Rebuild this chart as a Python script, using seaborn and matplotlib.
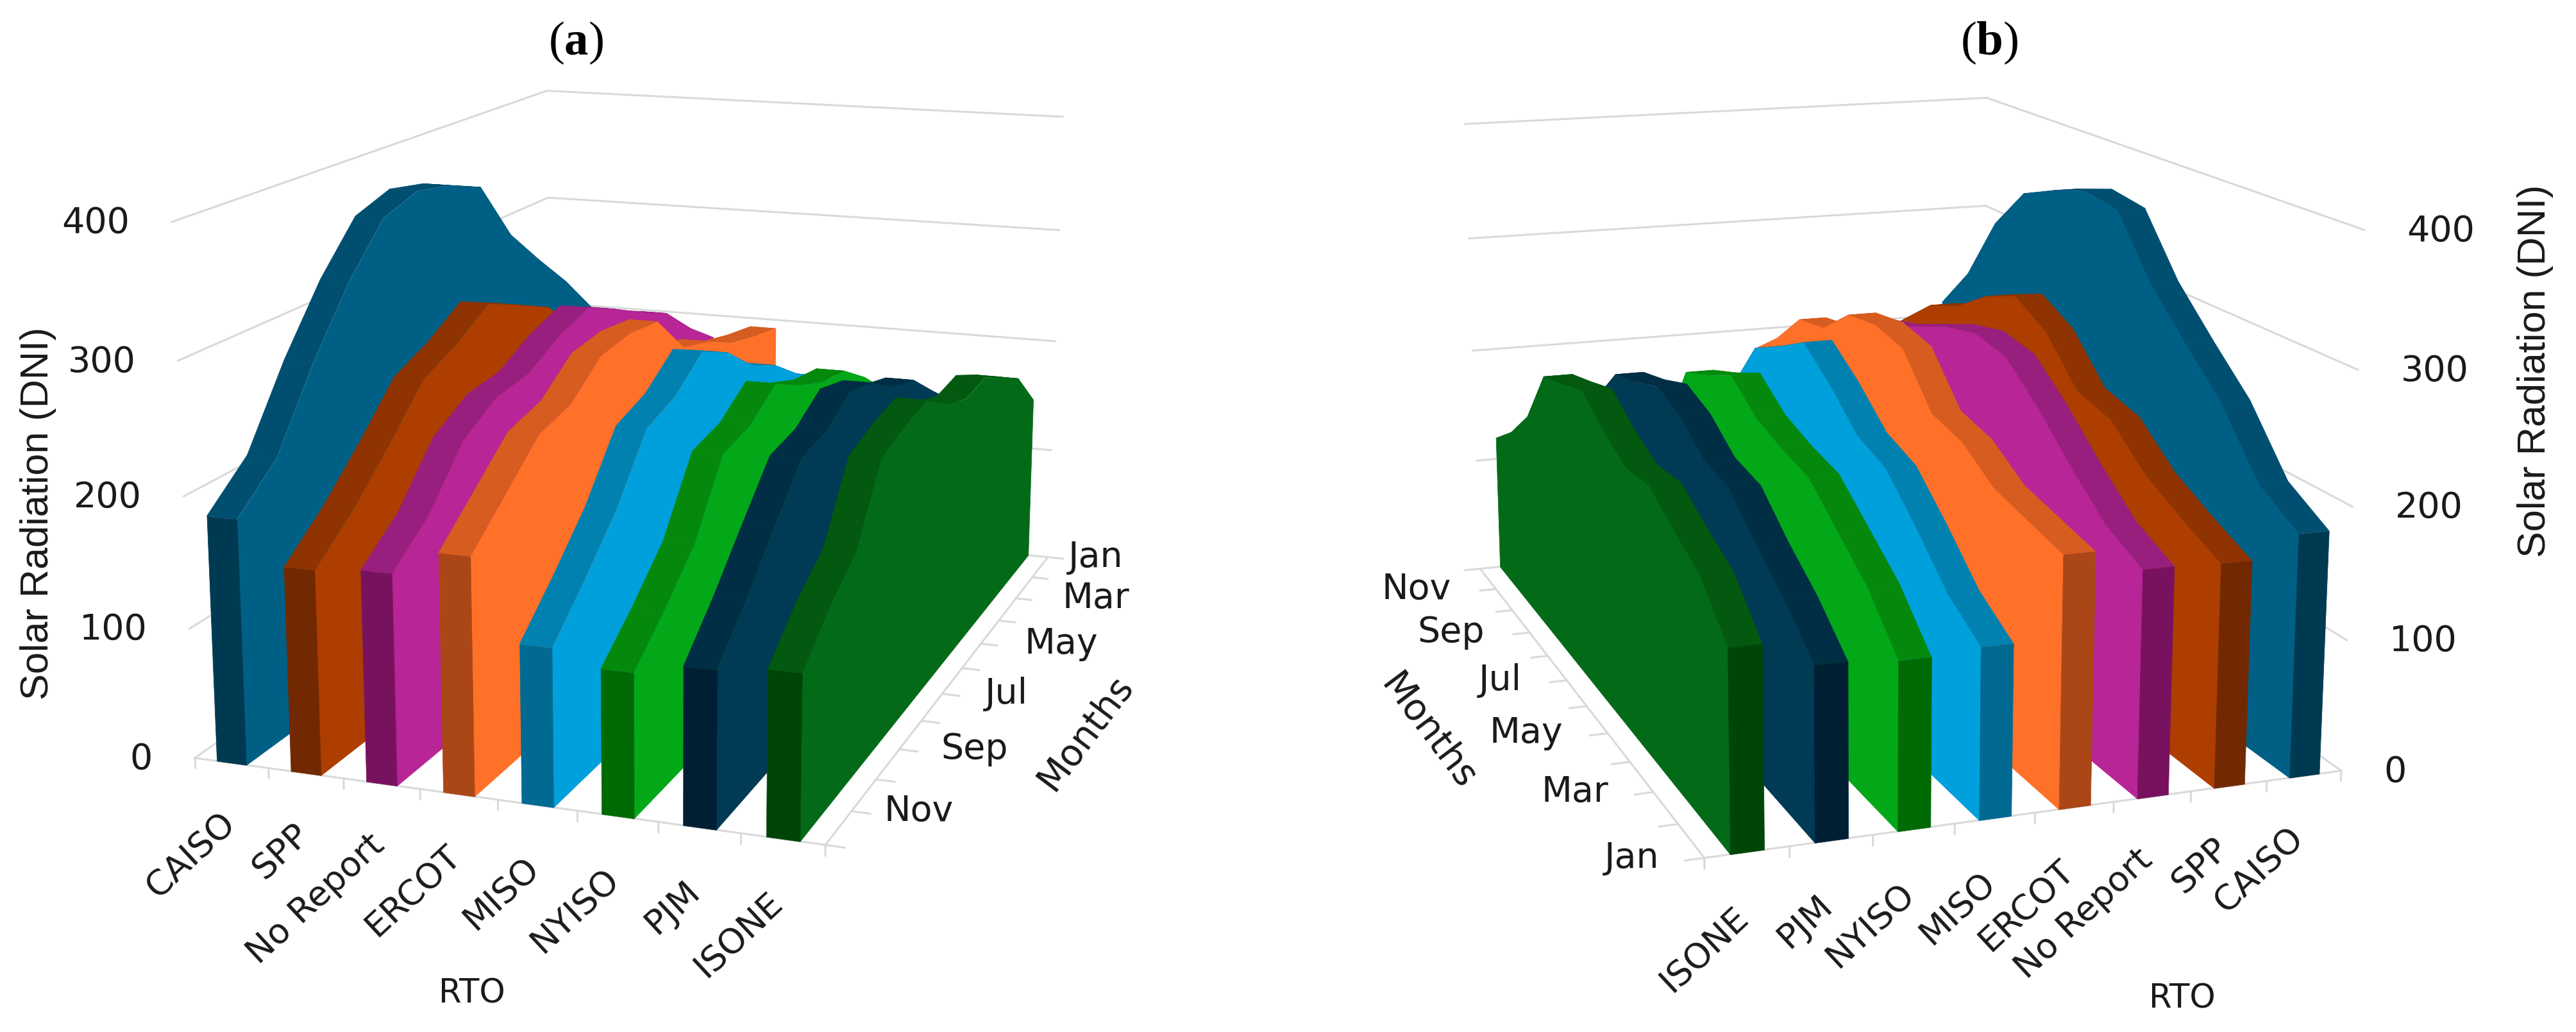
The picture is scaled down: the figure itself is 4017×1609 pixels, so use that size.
import numpy as np
import seaborn as sns
import matplotlib
matplotlib.use("Agg")
import matplotlib.pyplot as plt
from mpl_toolkits.mplot3d import proj3d
from mpl_toolkits.mplot3d.art3d import Poly3DCollection

months = ["Jan", "Feb", "Mar", "Apr", "May", "Jun", "Jul", "Aug", "Sep", "Oct", "Nov", "Dec"]
month_labels = ["Jan", "Mar", "May", "Jul", "Sep", "Nov"]
z_ticks = [0, 100, 200, 300, 400]

# panel (a), Jan to Dec
a_caiso = [199, 236, 268, 302, 354, 366, 372, 361, 323, 274, 216, 187]
a_spp = [175, 190, 205, 223, 255, 270, 284, 265, 251, 215, 182, 155]
a_noreport = [179, 201, 228, 242, 258, 272, 262, 246, 242, 224, 184, 159]
a_ercot = [192, 198, 206, 221, 230, 265, 269, 265, 242, 234, 206, 178]
a_miso = [148, 167, 183, 205, 219, 244, 259, 238, 228, 183, 149, 118]
a_nyiso = [150, 160, 185, 205, 210, 222, 238, 220, 214, 163, 133, 107]
a_pjm = [137, 155, 178, 202, 211, 229, 237, 221, 216, 182, 147, 116]
a_isone = [145, 179, 195, 209, 206, 217, 235, 230, 222, 169, 149, 121]

# panel (b), Jan to Dec
b_isone = [147, 179, 193, 209, 206, 218, 235, 226, 218, 169, 140, 119]
b_pjm = [128, 155, 176, 201, 206, 225, 234, 223, 215, 181, 160, 140]
b_nyiso = [124, 158, 181, 204, 210, 219, 238, 224, 212, 150, 130, 115]
b_miso = [127, 146, 177, 205, 215, 240, 260, 243, 228, 182, 170, 160]
b_ercot = [187, 194, 201, 220, 227, 264, 270, 265, 241, 235, 205, 182]
b_noreport = [170, 185, 212, 242, 267, 272, 264, 251, 238, 229, 214, 198]
b_spp = [168, 183, 200, 227, 235, 269, 285, 272, 251, 239, 214, 188]
b_caiso = [184, 204, 250, 282, 316, 363, 368, 358, 345, 308, 251, 212]

a_rto = ["CAISO", "SPP", "No Report", "ERCOT", "MISO", "NYISO", "PJM", "ISONE"]
b_rto = ["ISONE", "PJM", "NYISO", "MISO", "ERCOT", "No Report", "SPP", "CAISO"]
a_values = [a_caiso, a_spp, a_noreport, a_ercot, a_miso, a_nyiso, a_pjm, a_isone]
b_values = [b_isone, b_pjm, b_nyiso, b_miso, b_ercot, b_noreport, b_spp, b_caiso]

side_color = {"CAISO": "#005F85", "SPP": "#AD3E00", "No Report": "#B72597", "ERCOT": "#FF7029",
              "MISO": "#00A0DC", "NYISO": "#03A818", "PJM": "#003A55", "ISONE": "#036B18"}
top_color = {"CAISO": "#004F70", "SPP": "#8F3300", "No Report": "#981F7E", "ERCOT": "#D65C20",
             "MISO": "#0081B0", "NYISO": "#05890D", "PJM": "#002E44", "ISONE": "#02590F"}
cap_color = {"CAISO": "#003A52", "SPP": "#722800", "No Report": "#78125E", "ERCOT": "#AB4717",
             "MISO": "#006A92", "NYISO": "#006A05", "PJM": "#001F33", "ISONE": "#004508"}

GRID = "#D9D9D9"
TEXT = "#1A1A1A"
W, H = 4017, 1609

sns.set_theme(style="white")
plt.rcParams["font.family"] = "DejaVu Sans"
plt.rcParams["mathtext.fontset"] = "custom"
plt.rcParams["mathtext.bf"] = "Liberation Serif:bold"
plt.rcParams["mathtext.rm"] = "Liberation Serif"


def label3d(ax, x, y, z, text, dx=0, dy=0, **kw):
    # text at a projected data point, pushed by a few pixels
    u, v, _ = proj3d.proj_transform(x, y, z, ax.get_proj())
    ax.annotate(text, xy=(u, v), xytext=(dx, dy), textcoords="offset pixels",
                color=TEXT, annotation_clip=False, zorder=100, **kw)


def draw_panel(rect, view, rto, values, front, side_off):
    ax = fig.add_axes([rect[0] / W, rect[1] / H, rect[2] / W, rect[2] / H], projection="3d")
    ax.set_axis_off()
    ax.patch.set_alpha(0)
    ax.computed_zorder = False
    ax.set_xlim(0, 8)
    ax.set_ylim((11, 0) if front == 11 else (0, 11))
    ax.set_zlim(0, 400)
    ax.view_init(view[0], view[1])
    ax.set_proj_type("persp", focal_length=view[2])
    ax.set_box_aspect((1, view[3], view[4]))

    back = 11 - front
    wall_x = 0 if front == 11 else 8   # wall running along the months
    axis_x = 8 - wall_x                # floor edge holding the month ticks
    for z in z_ticks:
        ax.plot([wall_x, wall_x], [front, back], [z, z], color=GRID, lw=2.2, zorder=1)
        ax.plot([0, 8], [back, back], [z, z], color=GRID, lw=2.2, zorder=1)
    ax.plot([0, 8], [front, front], [0, 0], color=GRID, lw=2.2, zorder=2)
    ax.plot([axis_x, axis_x], [front, back], [0, 0], color=GRID, lw=2.2, zorder=2)
    for i in range(9):
        ax.plot([i, i], [front, front], [0, -8], color=GRID, lw=2.2, zorder=2)
    tick_dir = 1 if axis_x == 8 else -1
    for m in range(12):
        ax.plot([axis_x, axis_x + 0.23 * tick_dir], [m, m], [0, 0], color=GRID, lw=2.2, zorder=2)

    # far ribbons first
    order = range(8) if front == 11 else range(7, -1, -1)
    for rank, i in enumerate(order):
        name = rto[i]
        vals = values[i]
        x0, x1 = i + 0.3, i + 0.7
        xs = x0 + side_off
        zo = 10 + rank * 3
        side = [(xs, m, vals[m]) for m in range(12)] + [(xs, 11, 0), (xs, 0, 0)]
        tops = [[(x0, m, vals[m]), (x1, m, vals[m]), (x1, m + 1, vals[m + 1]), (x0, m + 1, vals[m + 1])]
                for m in range(11)]
        cap = [(x0, front, 0), (x1, front, 0), (x1, front, vals[front]), (x0, front, vals[front])]
        ax.add_collection3d(Poly3DCollection(tops, facecolors=top_color[name], edgecolors=top_color[name],
                                             linewidths=0.5, zsort="average", zorder=zo))
        ax.add_collection3d(Poly3DCollection([side], facecolors=side_color[name], edgecolors=side_color[name],
                                             linewidths=0.5, zorder=zo + 1))
        ax.add_collection3d(Poly3DCollection([cap], facecolors=cap_color[name], edgecolors=cap_color[name],
                                             linewidths=0.5, zorder=zo + 2))
    return ax, axis_x, front, back


fig = plt.figure(figsize=(W / 100, H / 100), dpi=100, facecolor="white")

# panel (a)
ax, axis_x, front, back = draw_panel((124.5, 56.2, 1777.1), (14.283, -70.316, 0.467, 1.454, 0.828),
                                     a_rto, a_values, 11, 0.4)
for z in z_ticks:
    label3d(ax, 0, front, z, str(z), dx=-66, dy=-2, ha="right", va="center", fontsize=40)
for i, name in enumerate(a_rto):
    label3d(ax, i + 0.45, front, -44, name, ha="right", va="center", rotation=43,
            rotation_mode="anchor", fontsize=39)
for name, off in zip(month_labels, [32, 72, 68, 67, 65, 51]):
    label3d(ax, axis_x, months.index(name), 0, name, dx=off, ha="left", va="center", fontsize=40)

# panel (b)
ax, axis_x, front, back = draw_panel((1989.6, 31.9, 1794.4), (14.227, -109.644, 0.47, 1.453, 0.827),
                                     b_rto, b_values, 0, 0.0)
for z in z_ticks:
    label3d(ax, 8, front, z, str(z), dx=66, dy=-2, ha="left", va="center", fontsize=40)
for i, name in enumerate(b_rto):
    label3d(ax, i + 0.45, front, -44, name, ha="right", va="center", rotation=43,
            rotation_mode="anchor", fontsize=39)
for name in month_labels:
    label3d(ax, axis_x, months.index(name), 0, name, dx=-70, ha="right", va="center", fontsize=40)

# axis titles
fig.text(60 / W, 1 - 800 / H, "Solar Radiation (DNI)", rotation=90, ha="center", va="center", fontsize=44,
         color=TEXT, family="Liberation Sans")
fig.text(3954 / W, 1 - 578 / H, "Solar Radiation (DNI)", rotation=90, ha="center", va="center", fontsize=44,
         color=TEXT, family="Liberation Sans")
fig.text(736 / W, 1 - 1550 / H, "RTO", ha="center", va="center", fontsize=37, color=TEXT)
fig.text(3403 / W, 1 - 1557 / H, "RTO", ha="center", va="center", fontsize=37, color=TEXT)
fig.text(1693 / W, 1 - 1143 / H, "Months", rotation=53, ha="center", va="center", fontsize=41, color=TEXT)
fig.text(2226 / W, 1 - 1141 / H, "Months", rotation=-53, ha="center", va="center", fontsize=41, color=TEXT)
fig.text(898 / W, 1 - 67 / H, r"($\mathbf{a}$)", ha="center", va="center", fontsize=54, color="black",
         family="Liberation Serif")
fig.text(3102 / W, 1 - 67 / H, r"($\mathbf{b}$)", ha="center", va="center", fontsize=54, color="black",
         family="Liberation Serif")

fig.savefig("out.png", dpi=100)
